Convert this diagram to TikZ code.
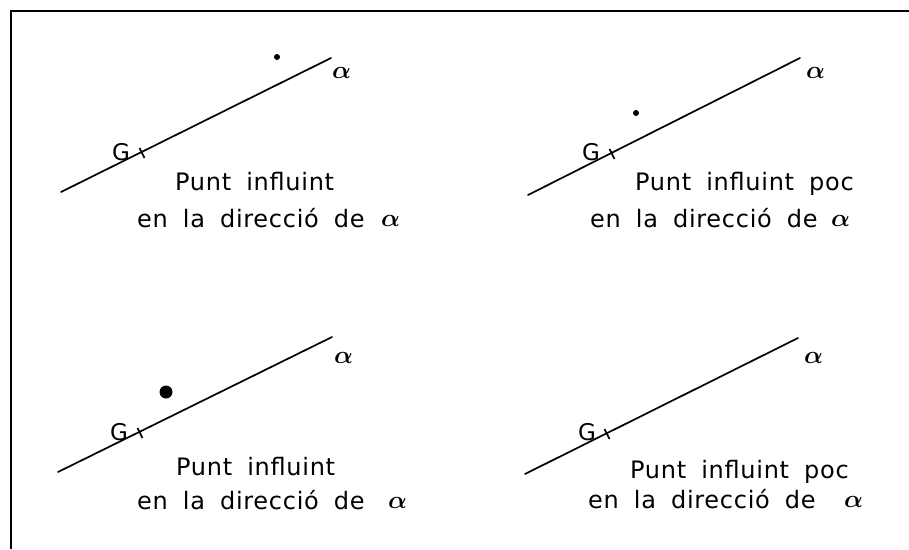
\documentclass[tikz,border=0pt]{standalone}
\usepackage{fontspec}
\setmainfont{DejaVu Sans}
\newfontfamily\letterfont[LetterSpace=3,WordSpace=1.8]{DejaVu Sans}
\begin{document}
\begin{tikzpicture}[x=1pt,y=-1pt,
  axisline/.style={line width=1.7pt, line cap=round},
  frameline/.style={line width=1.8pt},
  gtick/.style={line width=1.6pt},
  lbl/.style={inner sep=0pt, anchor=base west, font=\letterfont\fontsize{24}{28}\selectfont},
  glbl/.style={inner sep=0pt, anchor=base west, font=\fontsize{23}{26}\selectfont},
  albl/.style={inner sep=0pt, anchor=base west, font=\fontsize{28}{30}\selectfont\boldmath},
  smalldot/.style={circle, fill=black, inner sep=0pt, minimum size=6pt},
  bigdot/.style={circle, fill=black, inner sep=0pt, minimum size=13pt}]
\useasboundingbox (0,0) rectangle (909,549);
% frame
\coordinate (fbl) at (11,549);
\coordinate (ftl) at (11,11);
\coordinate (ftr) at (909,11);
\draw[frameline] (fbl) -- (ftl) -- (ftr);

% ---------- panel 1 ----------
\coordinate (a1s) at (61,192);
\coordinate (a1e) at (331,58);
\draw[axisline] (a1s) -- (a1e);
\node[smalldot] (p1) at (277,57) {};
\node[glbl] (G1) at (112,160) {G};
\node[albl] (al1) at (332,78) {$\alpha$};
\node[lbl] (t1a) at (175,190) {Punt influint};
\node[lbl] (t1b) at (137,227) {en la direcció de};
\node[albl] (a1t) at (381,226) {$\alpha$};

% ---------- panel 2 ----------
\coordinate (a2s) at (528,195);
\coordinate (a2e) at (800,58);
\draw[axisline] (a2s) -- (a2e);
\node[smalldot] (p2) at (636,113) {};
\node[glbl] (G2) at (582,160) {G};
\node[albl] (al2) at (806,78) {$\alpha$};
\node[lbl] (t2a) at (635,190) {Punt influint poc};
\node[lbl] (t2b) at (590,227) {en la direcció de};
\node[albl] (a2t) at (831,226) {$\alpha$};

% ---------- panel 3 ----------
\coordinate (a3s) at (58,472);
\coordinate (a3e) at (332,337);
\draw[axisline] (a3s) -- (a3e);
\node[bigdot] (p3) at (166,392) {};
\node[glbl] (G3) at (110,440) {G};
\node[albl] (al3) at (334,363) {$\alpha$};
\node[lbl] (t3a) at (176,475) {Punt influint};
\node[lbl] (t3b) at (137,509) {en la direcció de};
\node[albl] (a3t) at (388,508) {$\alpha$};

% ---------- panel 4 ----------
\coordinate (a4s) at (525,474);
\coordinate (a4e) at (798,338);
\draw[axisline] (a4s) -- (a4e);
\node[glbl] (G4) at (578,440) {G};
\node[albl] (al4) at (804,363) {$\alpha$};
\node[lbl] (t4a) at (630,478) {Punt influint poc};
\node[lbl] (t4b) at (588,508) {en la direcció de};
\node[albl] (a4t) at (844,507) {$\alpha$};

% G ticks (short strokes across the line)
\coordinate (k1) at (142,153);
\coordinate (k2) at (612,154);
\coordinate (k3) at (140,433);
\coordinate (k4) at (607,434);
\foreach \k in {k1,k2,k3,k4}{
  \draw[gtick] ([shift={(-2.5,-5)}]\k) -- ([shift={(2.5,5)}]\k);
}
\end{tikzpicture}
\end{document}
